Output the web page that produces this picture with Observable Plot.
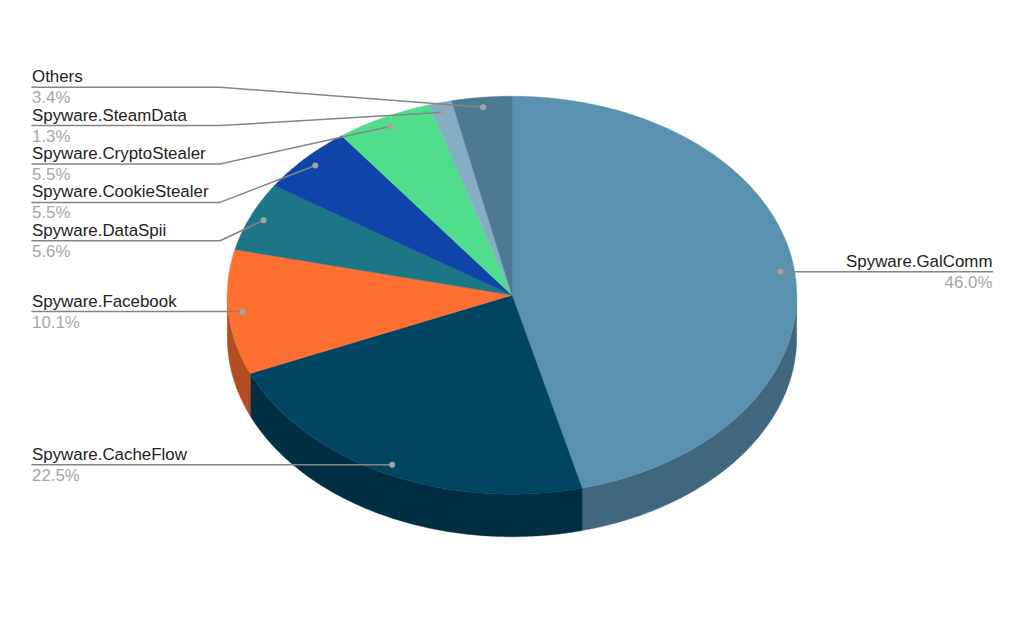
<!DOCTYPE html>
<html>
<head>
<meta charset="utf-8">
<style>html,body{margin:0;padding:0;background:#fff}svg{display:block}</style>
<script src="https://cdn.jsdelivr.net/npm/d3@7"></script>
<script src="https://cdn.jsdelivr.net/npm/@observablehq/plot@0.6"></script>
</head>
<body>
<div id="chart"></div>
<script>
const names = ["Spyware.GalComm","Spyware.CacheFlow","Spyware.Facebook","Spyware.DataSpii","Spyware.CookieStealer","Spyware.CryptoStealer","Spyware.SteamData","Others"];
const shares = [46.0,22.5,10.1,5.6,5.5,5.5,1.3,3.4];
const topColors = ["#5a91b0","#004561","#ff6f31","#1c7685","#0f44a8","#50de8d","#85adc3","#4d7a92"];
const sideColors = ["#41677e","#002f44","#b24e22","#14545f","#0b3178","#399f65","#5f7c8c","#375768"];

const cx = 511.5, cy = 294.7, rx = 284.7, ry = 199, depth = 42.5;
const pt = (a, f = 1, dy = 0) => [cx + rx * f * Math.sin(a), cy - ry * f * Math.cos(a) + dy];
const arc = (a0, a1, dy = 0) => {
  const n = Math.max(2, Math.ceil((a1 - a0) / 0.01));
  return d3.range(n + 1).map(i => pt(a0 + (a1 - a0) * i / n, 1, dy));
};
const pie = d3.pie().sort(null).value(d => d)(shares);
const marks = [];

// side walls (front half of the ellipse only)
pie.forEach((s, i) => {
  const a0 = Math.max(s.startAngle, Math.PI / 2), a1 = Math.min(s.endAngle, 3 * Math.PI / 2);
  if (a1 <= a0) return;
  const poly = [...arc(a0, a1), ...arc(a0, a1, depth).reverse()];
  poly.push(poly[0]);
  marks.push(Plot.line(poly, {x: d => d[0], y: d => d[1], fill: sideColors[i], stroke: sideColors[i], strokeWidth: 0.4}));
});
// top faces
pie.forEach((s, i) => {
  const poly = [[cx, cy], ...arc(s.startAngle, s.endAngle), [cx, cy]];
  marks.push(Plot.line(poly, {x: d => d[0], y: d => d[1], fill: topColors[i], stroke: topColors[i], strokeWidth: 0.4}));
});

// labels and leaders
const stackTop = 86.7, stackStep = 38.4, elbowX = 219.5, leftX = 31.5, rightX = 992;
const labels = pie.map((s, i) => {
  const mid = (s.startAngle + s.endAngle) / 2;
  const [dx, dy] = pt(mid, 0.95);
  const right = i === 0;
  const stacked = i >= 3;
  const lineY = stacked ? stackTop + stackStep * (names.length - 1 - i) : dy;
  return {name: names[i], value: shares[i].toFixed(1) + "%", dx, dy, lineY, right, stacked,
          tx: right ? rightX : leftX};
});
labels.forEach(l => {
  const path = l.stacked ? [[l.tx, l.lineY], [elbowX, l.lineY], [l.dx, l.dy]] : [[l.tx, l.lineY], [l.dx, l.dy]];
  marks.push(Plot.line(path, {x: d => d[0], y: d => d[1], stroke: "#858585", strokeWidth: 1.5}));
});
marks.push(Plot.dot(labels, {x: "dx", y: "dy", r: 3, fill: "#a3a3a3", stroke: "none"}));
const fontFamily = "'Liberation Sans', Arial, sans-serif";
for (const [side, anchor] of [[false, "start"], [true, "end"]]) {
  const group = labels.filter(l => l.right === side);
  marks.push(Plot.text(group, {x: "tx", y: "lineY", text: "name", textAnchor: anchor, lineAnchor: "bottom", dy: -5, fontSize: 16.9, fill: "#222222", fontFamily}));
  marks.push(Plot.text(group, {x: "tx", y: "lineY", text: "value", textAnchor: anchor, lineAnchor: "top", dy: 4, fontSize: 16.9, fill: "#a6a6a6", fontFamily}));
}

const chart = Plot.plot({
  width: 1024, height: 632, margin: 0,
  x: {domain: [0, 1024], range: [0, 1024], axis: null},
  y: {domain: [0, 632], range: [0, 632], axis: null},
  style: {background: "#fff"},
  marks
});
document.getElementById("chart").append(chart);
</script>
</body>
</html>
